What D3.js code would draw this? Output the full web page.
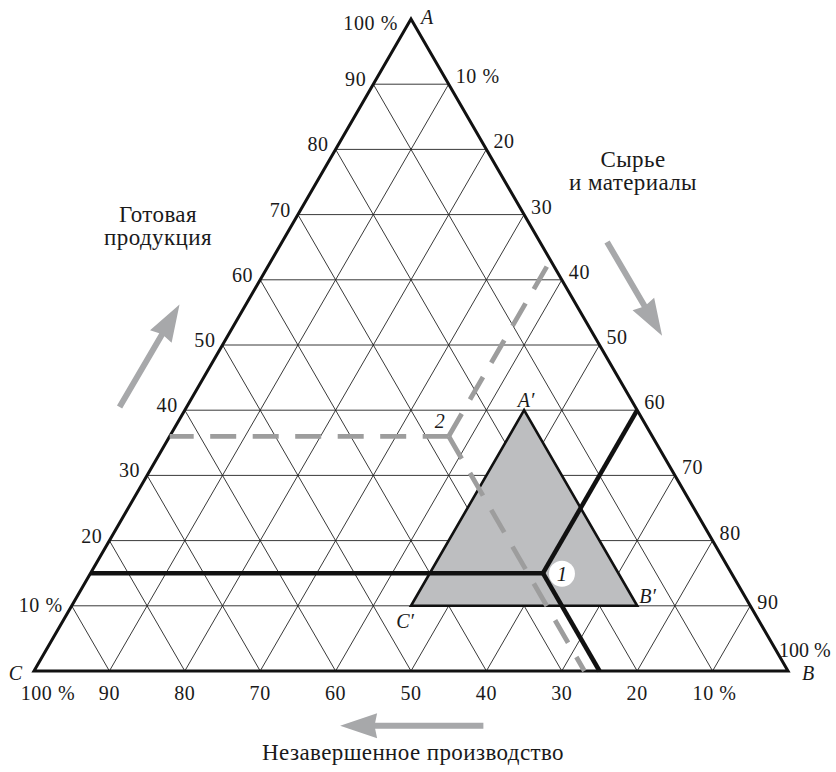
<!DOCTYPE html>
<html><head><meta charset="utf-8">
<script src="https://cdn.jsdelivr.net/npm/d3@7"></script>
<style>
body{margin:0;background:#fff}
text{font-family:"Liberation Serif","Times New Roman",serif;fill:#1a1a1a}
</style>
</head><body>
<svg id="chart" width="836" height="772"></svg>
<script>
// ---- data ----
const gridSteps = [10,20,30,40,50,60,70,80,90];
const tickValues = [10,20,30,40,50,60,70,80,90,100];
const labelsA = ["10 %","20","30","40","50","60","70","80","90","100 %"]; // left edge (Готовая продукция)
const labelsB = ["10 %","20","30","40","50","60","70","80","90","100 %"]; // right edge (Сырье и материалы)
const labelsC = ["10 %","20","30","40","50","60","70","80","90","100 %"]; // bottom edge (Незавершенное производство)
const vertexNames = ["A","B","C"];
const titleA = ["Готовая","продукция"];
const titleB = ["Сырье","и материалы"];
const titleC = ["Незавершенное производство"];
// points as [A, B, C] percentages
const point1 = [15,60,25];
const point2 = [36,37,27];
const zoneVertices = [[40,45,15],[10,75,15],[10,45,45]];
const zoneNames = ["A′","B′","C′"];
const pointNames = ["1","2"];

// ---- scales ----
const svg = d3.select("#chart");
const x = d3.scaleLinear().domain([0,100]).range([34,788]);
const y = d3.scaleLinear().domain([0,100]).range([671,19]);
const P = d => [x(d[1] + d[0]/2), y(d[0])];
const line = d3.line();

// ---- grid ----
const grid = svg.append("g").attr("stroke","#222").attr("stroke-width",0.9).attr("fill","none");
gridSteps.forEach(v=>{
  grid.append("path").attr("d", line([P([v,0,100-v]), P([v,100-v,0])]));   // const A
  grid.append("path").attr("d", line([P([0,v,100-v]), P([100-v,v,0])]));   // const B
  grid.append("path").attr("d", line([P([0,100-v,v]), P([100-v,0,v])]));   // const C
});

// ---- zone triangle ----
svg.append("path")
  .attr("d", line(zoneVertices.map(P)) + "Z")
  .attr("fill","#bdbec0").attr("stroke","#111").attr("stroke-width",2.6).attr("stroke-linejoin","miter");

// ---- outer triangle ----
svg.append("path")
  .attr("d", line([P([100,0,0]),P([0,100,0]),P([0,0,100])]) + "Z")
  .attr("fill","none").attr("stroke","#111").attr("stroke-width",3);

// ---- point 1 bold lines ----
const p1 = P(point1);
const bold = svg.append("g").attr("stroke","#111").attr("stroke-width",4.5).attr("fill","none").attr("stroke-linecap","butt").attr("stroke-linejoin","miter");
[[point1[0],0,100-point1[0]],[0,100-point1[2],point1[2]],[100-point1[1],point1[1],0]].forEach(e=>{
  bold.append("path").attr("d", line([P(e), p1]));
});

// ---- point 2 dashed lines ----
const p2 = P(point2);
const dash = svg.append("g").attr("stroke","#9d9d9d").attr("stroke-width",4.8).attr("fill","none")
  .attr("stroke-dasharray","26,16.5");
[[point2[0],0,100-point2[0]],[0,100-point2[2],point2[2]],[100-point2[1],point2[1],0]].forEach(e=>{
  dash.append("path").attr("d", line([p2, P(e)]));
});

// ---- point labels ----
svg.append("circle").attr("cx",p1[0]+19).attr("cy",p1[1]+0.5).attr("r",13).attr("fill","#fff");
svg.append("text").attr("x",p1[0]+19).attr("y",p1[1]+7.5).attr("text-anchor","middle")
  .attr("font-style","italic").attr("font-size",21).text(pointNames[0]);
svg.append("text").attr("x",p2[0]-14).attr("y",p2[1]-8).attr("text-anchor","start")
  .attr("font-style","italic").attr("font-size",20).text(pointNames[1]);

// zone labels
const zA = P(zoneVertices[0]), zB = P(zoneVertices[1]), zC = P(zoneVertices[2]);
svg.append("text").attr("x",zA[0]+2).attr("y",zA[1]-3).attr("text-anchor","middle").attr("font-style","italic").attr("font-size",20).text(zoneNames[0]);
svg.append("text").attr("x",zB[0]+2).attr("y",zB[1]-3).attr("text-anchor","start").attr("font-style","italic").attr("font-size",20).text(zoneNames[1]);
svg.append("text").attr("x",zC[0]+3).attr("y",zC[1]+22).attr("text-anchor","end").attr("font-style","italic").attr("font-size",20).text(zoneNames[2]);

// ---- tick labels ----
const tl = svg.append("g").attr("font-size",20).attr("letter-spacing",0.6);
tickValues.forEach((v,i)=>{
  // left edge: A
  let e = P([v,0,100-v]);
  let dx = -7, dy = 2;
  if (v===100){dx=-13; dy=11;}
  if (v===10){dx=-9; dy=6;}
  tl.append("text").attr("x",e[0]+dx).attr("y",e[1]+dy).attr("text-anchor","end").text(labelsA[i]);
  // right edge: B
  e = P([100-v,v,0]);
  dx = 7; dy = -1;
  if (v===100){dx=-9; dy=-14;}
  if (v===90){dy=3;}
  const tb = tl.append("text").attr("x",e[0]+dx).attr("y",e[1]+dy).attr("text-anchor","start").text(labelsB[i]);
  if (v===100) tb.attr("letter-spacing",0);
  // bottom: C
  e = P([0,100-v,v]);
  dx = 0;
  if (v===100) dx = 14;
  if (v===10) dx = 2;
  tl.append("text").attr("x",e[0]+dx).attr("y",y(0)+29).attr("text-anchor","middle").text(labelsC[i]);
});

// vertex names
const vA = P([100,0,0]), vB = P([0,100,0]), vC = P([0,0,100]);
svg.append("text").attr("x",vA[0]+10).attr("y",vA[1]+5).attr("font-style","italic").attr("font-size",20).text(vertexNames[0]);
svg.append("text").attr("x",vB[0]+14).attr("y",vB[1]+9).attr("font-style","italic").attr("font-size",20).text(vertexNames[1]);
svg.append("text").attr("x",vC[0]-12).attr("y",vC[1]+9).attr("text-anchor","end").attr("font-style","italic").attr("font-size",20).text(vertexNames[2]);

// ---- titles ----
const tt = svg.append("g").attr("font-size",23).attr("letter-spacing",0.4).attr("text-anchor","middle");
titleA.forEach((t,i)=>tt.append("text").attr("x",158).attr("y",222+i*23).text(t));
titleB.forEach((t,i)=>tt.append("text").attr("x",633).attr("y",167+i*23).text(t));
titleC.forEach((t,i)=>tt.append("text").attr("x",413).attr("y",760).text(t));

// ---- arrows (parallel to edges, outside triangle) ----
function arrow(from, to){
  const a = P(from), b = P(to);
  const ang = Math.atan2(b[1]-a[1], b[0]-a[0]);
  const len = Math.hypot(b[0]-a[0], b[1]-a[1]);
  const hl = 37, hw = 12.5, sw = 3;
  const g = svg.append("g").attr("transform",`translate(${a[0]},${a[1]}) rotate(${ang*180/Math.PI})`);
  g.append("path").attr("fill","#a7a8aa")
    .attr("d",`M0,${-sw}L${len-hl+2},${-sw}L${len-hl},${-hw}L${len},0L${len-hl},${hw}L${len-hl+2},${sw}L0,${sw}Z`);
}
arrow([40.5,-8.9,68.4],[56.2,-8.8,52.6]);      // A increasing
arrow([65.8,43.1,-8.9],[51.4,57.6,-9]);        // B increasing
arrow([-8.4,63.8,44.6],[-8.4,44.8,63.6]);      // C increasing
</script>
</body></html>
